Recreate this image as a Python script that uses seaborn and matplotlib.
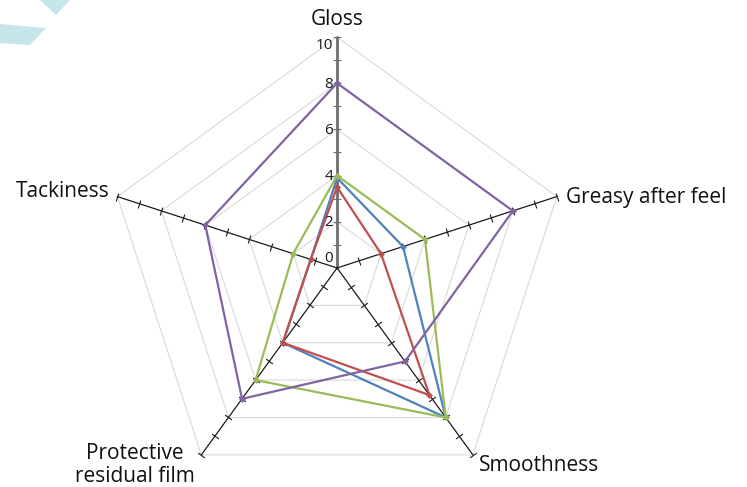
import numpy as np
import pandas as pd
import matplotlib
matplotlib.use('Agg')
import matplotlib.pyplot as plt
from matplotlib.patches import Polygon
import seaborn as sns

sns.set_theme(style='white')
plt.rcParams['font.family'] = ['Open Sans', 'DejaVu Sans']

# data
categories = ['Gloss', 'Greasy after feel', 'Smoothness', 'Protective\nresidual film', 'Tackiness']
series_names = ['Blue', 'Red', 'Green', 'Purple']
blue_vals = [3.9, 3, 8, 4, 1.2]
red_vals = [3.5, 2, 6.8, 4, 1.2]
green_vals = [4, 4, 8, 6, 2]
purple_vals = [8, 8, 5, 7, 6]
radial_ticks = [0, 2, 4, 6, 8, 10]
grid_levels = [2, 4, 6, 8, 10]

palette = {'Blue': '#4F81BD', 'Red': '#C0504D', 'Green': '#9BBB59', 'Purple': '#8064A2'}

n = len(categories)
theta = np.arange(n) * 2 * np.pi / n
theta_closed = np.append(theta, 2 * np.pi)

rows = []
for name, vals in zip(series_names, [blue_vals, red_vals, green_vals, purple_vals]):
    for t, v in zip(theta_closed, vals + vals[:1]):
        rows.append(dict(series=name, theta=t, value=v))
df = pd.DataFrame(rows)

fig = plt.figure(figsize=(7.47, 4.87), dpi=100)

# decorative shapes top-left
fig.patches.append(Polygon([[40 / 747, 1], [70 / 747, 1], [56 / 747, 1 - 15 / 487]],
                           closed=True, transform=fig.transFigure, fc='#c7e6eb', ec='none'))
fig.patches.append(Polygon([[0, 1 - 24 / 487], [46 / 747, 1 - 28 / 487], [30 / 747, 1 - 45 / 487], [0, 1 - 43 / 487]],
                           closed=True, transform=fig.transFigure, fc='#c7e6eb', ec='none'))

ax = fig.add_axes([0.142, -0.0246, 0.6185, 0.9487], projection='polar')
ax.set_theta_offset(np.pi / 2)
ax.set_theta_direction(-1)
ax.set_ylim(0, 10)
ax.grid(False)
ax.set_xticks([])
ax.set_yticks([])
ax.spines['polar'].set_visible(False)
ax.patch.set_visible(False)

#region grid
for lvl in grid_levels:
    ax.plot(theta_closed, [lvl] * (n + 1), color='#d9d9d9', lw=0.8, zorder=1)
#endregion grid

#region spokes and ticks
for i, t in enumerate(theta):
    scr_angle = 90 - np.degrees(t)
    col = '#6e6e6e' if i == 0 else '#1a1a1a'
    lw = 2.0 if i == 0 else 0.9
    ax.plot([t, t], [0, 10], color=col, lw=lw, zorder=2, clip_on=False)
    ax.plot([t] * 10, list(range(1, 11)), ls='none', marker=(2, 0, scr_angle),
            ms=6, mew=0.8, color=col, zorder=2, clip_on=False)
#endregion spokes and ticks

#region series
sns.lineplot(data=df, x='theta', y='value', hue='series', palette=palette,
             sort=False, estimator=None, marker='D', markersize=3.5,
             markeredgewidth=0, lw=1.6, legend=False, ax=ax, zorder=3)
ax.set_xlabel('')
ax.set_ylabel('')
for line in ax.lines:
    line.set_clip_on(False)
#endregion series

#region labels
for rt in radial_ticks:
    if rt == 0:
        offs, va = (-4, 2), 'bottom'
    elif rt == radial_ticks[-1]:
        offs, va = (-4, -9), 'center'
    else:
        offs, va = (-4, -1), 'center'
    ax.annotate(str(rt), xy=(0, rt), xytext=offs, textcoords='offset pixels',
                ha='right', va=va, fontsize=11, color='#1a1a1a', annotation_clip=False)

label_props = [
    dict(xytext=(0, 17), ha='center', va='center'),
    dict(xytext=(9, -1), ha='left', va='center'),
    dict(xytext=(6, -11), ha='left', va='center'),
    dict(xytext=(-66, -10), ha='center', va='center'),
    dict(xytext=(-8, 5), ha='right', va='center'),
]
for t, lab, props in zip(theta, categories, label_props):
    ax.annotate(lab, xy=(t, 10), textcoords='offset pixels', fontsize=15,
                color='#111111', annotation_clip=False, linespacing=1.1, **props)
#endregion labels

plt.savefig('out.png', dpi=100)
plt.close('all')
